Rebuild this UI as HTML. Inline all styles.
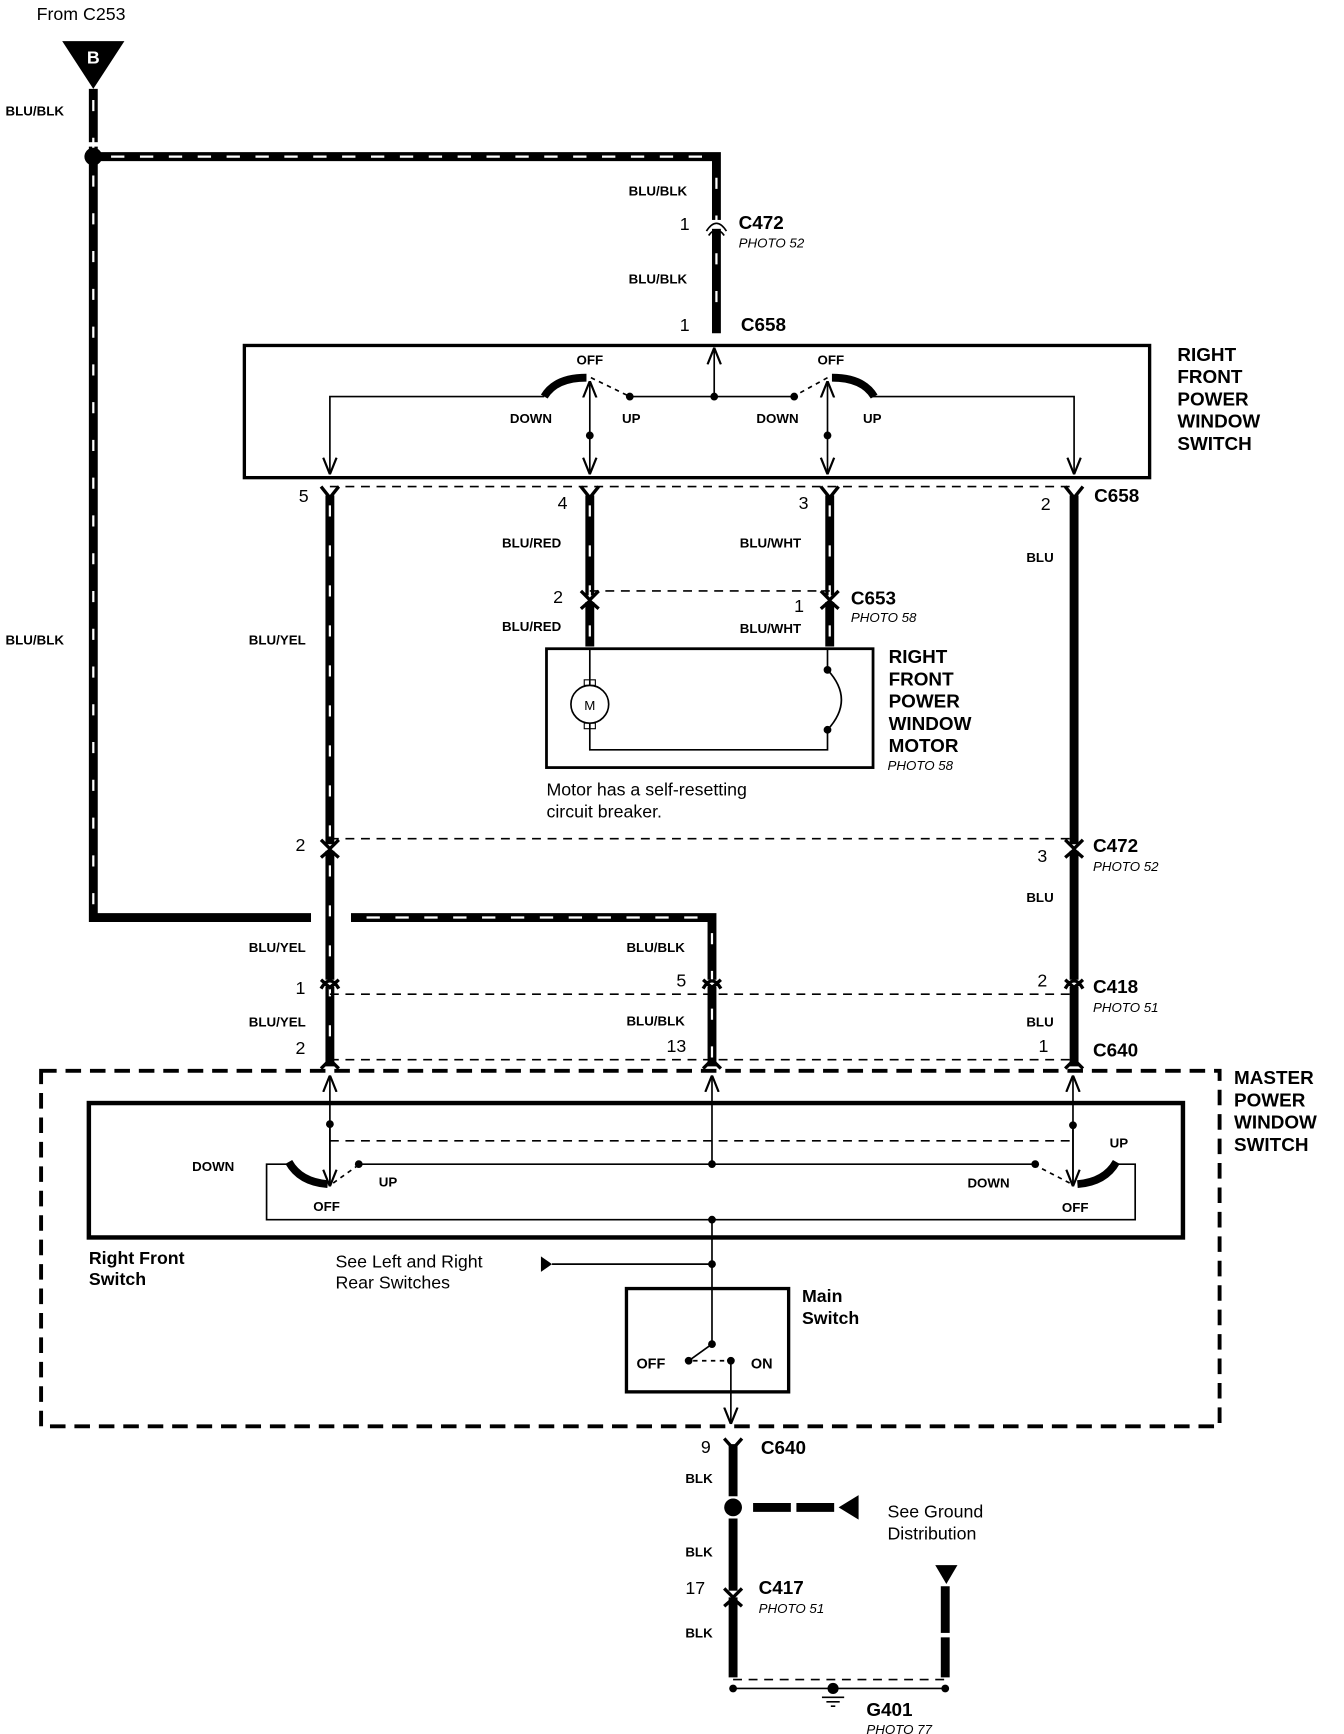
<!DOCTYPE html>
<html><head><meta charset="utf-8"><style>
html,body{margin:0;padding:0;background:#fff}
svg{display:block}
text{font-family:"Liberation Sans",sans-serif;fill:#000}
.s{font-size:12px;font-weight:bold}
.b{font-size:17px;font-weight:bold}
.n{font-size:16px}
.p{font-size:12px;font-style:italic}
.w{stroke:#000;stroke-width:8;fill:none}
.t{stroke:#fff;stroke-width:2;fill:none;stroke-dasharray:6,26}
.th{stroke:#000;stroke-width:1.5;fill:none}
.d{stroke:#000;stroke-width:1.5;fill:none;stroke-dasharray:8,6}
</style></head><body>
<svg width="1344" height="1734" viewBox="0 0 1210 1561" preserveAspectRatio="none" xmlns="http://www.w3.org/2000/svg">
<defs>
<marker id="ar" viewBox="0 0 10 10" refX="10" refY="5" markerWidth="10" markerHeight="10" orient="auto"><path d="M0,1 L10,5 L0,9" fill="none" stroke="#000" stroke-width="1.3"/></marker>
</defs>
<text x="33" y="18" class="n">From C253</text>
<path d="M56,37 L112,37 L84,80 Z" fill="#000"/>
<text x="84" y="57" class="n" text-anchor="middle" style="fill:#fff;font-weight:bold">B</text>
<!-- left big wire -->
<path class="w" d="M84,80 V826 H280"/>
<path class="w" d="M84,141 H645 V300"/>
<path class="w" d="M316,826 H641 V960"/>
<path class="t" d="M84,90 V826" style="stroke-dasharray:10,24"/>
<path d="M100,141 H640 M330,826 H636" stroke="#fff" stroke-width="2" stroke-dasharray="12,14" fill="none"/>
<path class="t" d="M645,160 V295 M641,840 V955" style="stroke-dasharray:10,24"/>
<circle cx="84" cy="141" r="8"/>
<rect x="78" y="128" width="12" height="4" fill="#fff"/>
<text x="5" y="104" class="s">BLU/BLK</text>
<text x="5" y="580" class="s">BLU/BLK</text>
<text x="566" y="176" class="s">BLU/BLK</text>
<text x="612" y="207" class="n">1</text>
<text x="665" y="206" class="b">C472</text>
<text x="665" y="223" class="p">PHOTO 52</text>
<rect x="638" y="198" width="14" height="8" fill="#fff"/>
<path d="M636,208 Q645,194 654,208 M638,212 Q645,202 652,212" class="th" stroke-width="2.5"/>
<text x="566" y="255" class="s">BLU/BLK</text>
<text x="612" y="298" class="n">1</text>
<text x="667" y="298" class="b">C658</text>
<!-- RF switch box -->
<rect x="220" y="311" width="815" height="119" fill="none" stroke="#000" stroke-width="3"/>
<text class="b" x="1060" y="325">RIGHT</text><text class="b" x="1060" y="345">FRONT</text><text class="b" x="1060" y="365">POWER</text><text class="b" x="1060" y="385">WINDOW</text><text class="b" x="1060" y="405">SWITCH</text>
<path class="th" d="M643,357 V313" marker-end="url(#ar)"/>
<path class="th" d="M567,357 H715"/>
<circle cx="567" cy="357" r="3.5"/><circle cx="643" cy="357" r="3.5"/><circle cx="715" cy="357" r="3.5"/>
<path class="th" d="M490,357 H297 V427" marker-end="url(#ar)"/>
<path class="th" d="M785,357 H967 V427" marker-end="url(#ar)"/>
<path d="M490,357 Q500,340 528,340" stroke="#000" stroke-width="7" fill="none"/>
<path d="M787,357 Q777,340 749,340" stroke="#000" stroke-width="7" fill="none"/>
<path d="M532,340 L565,356 M745,340 L716,356" class="th" stroke-dasharray="4,4"/>
<path class="th" d="M531,392 V343" marker-end="url(#ar)"/><path class="th" d="M531,392 V427" marker-end="url(#ar)"/>
<path class="th" d="M745,392 V343" marker-end="url(#ar)"/><path class="th" d="M745,392 V427" marker-end="url(#ar)"/>
<circle cx="531" cy="392" r="3.5"/><circle cx="745" cy="392" r="3.5"/>
<text class="s" x="519" y="328">OFF</text><text class="s" x="736" y="328">OFF</text>
<text class="s" x="459" y="381">DOWN</text><text class="s" x="560" y="381">UP</text>
<text class="s" x="681" y="381">DOWN</text><text class="s" x="777" y="381">UP</text>
<!-- C658 bottom -->
<path class="d" d="M297,438 H967" stroke-width="2"/>
<path class="w" d="M297,446 V960 M531,446 V582 M747,446 V582 M967,446 V960"/>
<path class="t" d="M297,455 V955 M531,455 V580 M747,455 V580" style="stroke-dasharray:10,26"/>
<g stroke="#000" stroke-width="3" fill="none">
<path d="M289,438 L297,448 L305,438 M523,438 L531,448 L539,438 M739,438 L747,448 L755,438 M959,438 L967,448 L975,438"/>
</g>
<text class="n" x="269" y="452">5</text><text class="n" x="502" y="458">4</text><text class="n" x="719" y="458">3</text><text class="n" x="937" y="459">2</text>
<text class="b" x="985" y="452">C658</text>
<text class="s" x="452" y="493">BLU/RED</text><text class="s" x="666" y="493">BLU/WHT</text><text class="s" x="924" y="506">BLU</text>
<!-- C653 -->
<path class="d" d="M531,532 H747" stroke-width="2"/>
<rect x="524" y="536" width="14" height="6" fill="#fff"/><rect x="740" y="536" width="14" height="6" fill="#fff"/>
<path d="M523,532 L531,540 L539,532 M523,548 L531,541 L539,548 M739,532 L747,540 L755,532 M739,548 L747,541 L755,548" stroke="#000" stroke-width="3" fill="none"/>
<text class="n" x="498" y="543">2</text><text class="n" x="715" y="551">1</text>
<text class="b" x="766" y="544">C653</text><text class="p" x="766" y="560">PHOTO 58</text>
<text class="s" x="452" y="568">BLU/RED</text><text class="s" x="666" y="570">BLU/WHT</text>
<!-- motor -->
<rect x="492" y="584" width="294" height="107" fill="none" stroke="#000" stroke-width="2.5"/>
<path class="th" d="M531,584 V617 M531,651 V675 H745 V657 M745,603 V584"/>
<path class="th" d="M745,603 Q770,630 745,657"/>
<circle cx="745" cy="603" r="3.5"/><circle cx="745" cy="657" r="3.5"/>
<circle cx="531" cy="634" r="17" class="th"/>
<rect x="526" y="612" width="10" height="5" fill="none" stroke="#000"/><rect x="526" y="651" width="10" height="5" fill="none" stroke="#000"/>
<text x="531" y="639" text-anchor="middle" style="font-size:12px">M</text>
<text class="b" x="800" y="597">RIGHT</text><text class="b" x="800" y="617">FRONT</text><text class="b" x="800" y="637">POWER</text><text class="b" x="800" y="657">WINDOW</text><text class="b" x="800" y="677">MOTOR</text>
<text class="p" x="799" y="693">PHOTO 58</text>
<text class="n" x="492" y="716">Motor has a self-resetting</text>
<text class="n" x="492" y="736">circuit breaker.</text>
<text class="s" x="224" y="580">BLU/YEL</text>
<!-- C472 -->
<path class="d" d="M297,755 H967"/>
<rect x="290" y="760" width="14" height="6" fill="#fff"/><rect x="960" y="760" width="14" height="6" fill="#fff"/>
<path d="M289,756 L297,764 L305,756 M289,772 L297,765 L305,772 M959,756 L967,764 L975,756 M959,772 L967,765 L975,772" stroke="#000" stroke-width="3" fill="none"/>
<text class="n" x="266" y="766">2</text><text class="n" x="934" y="776">3</text>
<text class="b" x="984" y="767">C472</text><text class="p" x="984" y="784">PHOTO 52</text>
<text class="s" x="924" y="812">BLU</text>
<text class="s" x="224" y="857">BLU/YEL</text><text class="s" x="564" y="857">BLU/BLK</text>
<!-- C418 -->
<path class="d" d="M297,895 H967"/>
<rect x="290" y="882" width="14" height="6" fill="#fff"/><rect x="634" y="882" width="14" height="6" fill="#fff"/><rect x="960" y="882" width="14" height="6" fill="#fff"/>
<path d="M289,890 Q297,876 305,890 M289,882 L297,889 L305,882 M633,890 Q641,876 649,890 M633,882 L641,889 L649,882 M959,890 Q967,876 975,890 M959,882 L967,889 L975,882" stroke="#000" stroke-width="3" fill="none"/>
<text class="n" x="266" y="895">1</text><text class="n" x="609" y="888">5</text><text class="n" x="934" y="888">2</text>
<text class="b" x="984" y="894">C418</text><text class="p" x="984" y="911">PHOTO 51</text>
<text class="s" x="224" y="924">BLU/YEL</text><text class="s" x="564" y="923">BLU/BLK</text><text class="s" x="924" y="924">BLU</text>
<!-- C640 top -->
<path class="d" d="M297,954 H967"/>
<path d="M289,962 L297,954 L305,962 M633,962 L641,954 L649,962 M959,962 L967,954 L975,962" stroke="#000" stroke-width="3" fill="none"/>
<text class="n" x="266" y="949">2</text><text class="n" x="600" y="947">13</text><text class="n" x="935" y="947">1</text>
<text class="b" x="984" y="951">C640</text>
<!-- master -->
<rect x="37" y="964" width="1061" height="320" fill="none" stroke="#000" stroke-width="3.5" stroke-dasharray="14,8"/>
<text class="b" x="1111" y="976">MASTER</text><text class="b" x="1111" y="996">POWER</text><text class="b" x="1111" y="1016">WINDOW</text><text class="b" x="1111" y="1036">SWITCH</text>
<rect x="80" y="993" width="985" height="121" fill="none" stroke="#000" stroke-width="4"/>
<path class="th" d="M297,1068 V968" marker-end="url(#ar)"/><path class="th" d="M297,1012 V1068" marker-end="url(#ar)"/>
<path class="th" d="M966,1068 V968" marker-end="url(#ar)"/><path class="th" d="M966,1012 V1068" marker-end="url(#ar)"/>
<path class="th" d="M641,1048 V968" marker-end="url(#ar)"/>
<circle cx="297" cy="1012" r="3.5"/><circle cx="966" cy="1013" r="3.5"/>
<path class="d" d="M297,1027 H966"/>
<path class="th" d="M323,1048 H932"/>
<circle cx="323" cy="1048" r="3.5"/><circle cx="641" cy="1048" r="3.5"/><circle cx="932" cy="1048" r="3.5"/>
<path class="th" d="M258,1048 H240 V1098 H1022 V1048 H1005"/>
<path d="M260,1046 Q270,1064 295,1066" stroke="#000" stroke-width="7" fill="none"/>
<path d="M1005,1046 Q995,1064 970,1066" stroke="#000" stroke-width="7" fill="none"/>
<path d="M300,1065 L321,1050 M963,1065 L934,1050" class="th" stroke-dasharray="4,4"/>
<text class="s" x="173" y="1054">DOWN</text><text class="s" x="341" y="1068">UP</text><text class="s" x="282" y="1090">OFF</text>
<text class="s" x="999" y="1033">UP</text><text class="s" x="871" y="1069">DOWN</text><text class="s" x="956" y="1091">OFF</text>
<path class="th" d="M641,1098 V1210"/>
<circle cx="641" cy="1098" r="3.5"/><circle cx="641" cy="1138" r="3.5"/>
<path class="th" d="M497,1138 H641"/>
<path d="M487,1131 L497,1138 L487,1145 Z"/>
<text class="b" x="80" y="1138" style="font-size:16px">Right Front</text><text class="b" x="80" y="1157" style="font-size:16px">Switch</text>
<text class="n" x="302" y="1141">See Left and Right</text><text class="n" x="302" y="1160">Rear Switches</text>
<rect x="564" y="1160" width="146" height="93" fill="none" stroke="#000" stroke-width="3"/>
<path class="th" d="M641,1210 L620,1225"/>
<circle cx="641" cy="1210" r="3.5"/><circle cx="620" cy="1225" r="3.5"/><circle cx="658" cy="1225" r="3.5"/>
<path class="th" d="M624,1225 H655" stroke-dasharray="4,4"/>
<path class="th" d="M658,1225 V1282" marker-end="url(#ar)"/>
<text class="s" x="573" y="1232" style="font-size:13px">OFF</text><text class="s" x="676" y="1232" style="font-size:13px">ON</text>
<text class="b" x="722" y="1172" style="font-size:16px">Main</text><text class="b" x="722" y="1192" style="font-size:16px">Switch</text>
<!-- bottom -->
<path class="w" d="M660,1300 V1510 M851,1428 V1510"/>
<path d="M652,1295 L660,1304 L668,1295" stroke="#000" stroke-width="3" fill="none"/>
<rect x="650" y="1347" width="20" height="20" fill="#fff"/>
<circle cx="660" cy="1357" r="8"/>
<rect x="650" y="1432" width="20" height="6" fill="#fff"/>
<path d="M652,1430 L660,1438 L668,1430 M652,1446 L660,1439 L668,1446" stroke="#000" stroke-width="3" fill="none"/>
<path d="M678,1357 H755" stroke="#000" stroke-width="8" stroke-dasharray="34,5"/>
<path d="M755,1357 L773,1346 L773,1368 Z"/>
<rect x="845" y="1470" width="12" height="4" fill="#fff"/>
<path d="M842,1409 L862,1409 L852,1426 Z"/>
<text class="n" x="631" y="1308">9</text><text class="b" x="685" y="1309">C640</text>
<text class="s" x="617" y="1335">BLK</text>
<text class="n" x="799" y="1366">See Ground</text><text class="n" x="799" y="1386">Distribution</text>
<text class="s" x="617" y="1401">BLK</text>
<text class="n" x="617" y="1435">17</text><text class="b" x="683" y="1435">C417</text><text class="p" x="683" y="1452">PHOTO 51</text>
<text class="s" x="617" y="1474">BLK</text>
<path class="d" d="M660,1512 H851"/>
<path class="th" d="M660,1520 H851"/>
<circle cx="660" cy="1520" r="3.5"/><circle cx="851" cy="1520" r="3.5"/><circle cx="750" cy="1520" r="5"/>
<path class="th" d="M740,1528 H760 M744,1532 H756 M748,1536 H752"/>
<text class="b" x="780" y="1545">G401</text><text class="p" x="780" y="1561">PHOTO 77</text>
</svg>
</body></html>
